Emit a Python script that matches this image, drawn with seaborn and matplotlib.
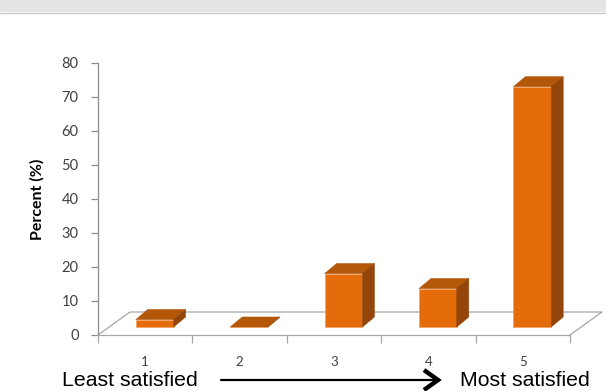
import matplotlib
matplotlib.use("Agg")
import matplotlib.pyplot as plt
import seaborn as sns
import pandas as pd
import numpy as np
from matplotlib.patches import Polygon, Rectangle
from matplotlib.lines import Line2D

# ---- data ----
ratings = ["1", "2", "3", "4", "5"]
percent = [2.2, 0.0, 15.7, 11.3, 70.6]
y_ticks = [0, 10, 20, 30, 40, 50, 60, 70, 80]
y_label = "Percent (%)"
low_label = "Least satisfied"
high_label = "Most satisfied"

# ---- style ----
FRONT = "#E46C0A"
TOP = "#B35709"
SIDE = "#94460A"
EDGE = "#F5A060"
AXIS_GRAY = "#8C8C8C"
TEXT_GRAY = "#404040"

W, H, DPI = 606, 391, 100
sns.set_theme(style="white")
plt.rcParams["font.family"] = ["Lato", "DejaVu Sans"]

fig = plt.figure(figsize=(W / DPI, H / DPI), dpi=DPI)
fig.patch.set_facecolor("white")

# axes box in pixels: x 98..570, value 0 at y=335, value 80 at y=62.7
ax_left, ax_right, ax_bottom, ax_top = 98, 570, 335, 62.7
ax = fig.add_axes([ax_left / W, (H - ax_bottom) / H,
                   (ax_right - ax_left) / W, (ax_bottom - ax_top) / H])
ax.set_facecolor("none")

df = pd.DataFrame({"rating": ratings, "percent": percent})
sns.barplot(data=df, x="rating", y="percent", color=FRONT, width=0.40,
            saturation=1, ax=ax, zorder=3)
ax.set_xlim(-0.5, len(ratings) - 0.5)
ax.set_ylim(0, y_ticks[-1])

# pixel -> data conversion factors
fig.canvas.draw()
px_per_x = ax.transData.transform((1, 0))[0] - ax.transData.transform((0, 0))[0]
px_per_y = ax.transData.transform((0, 1))[1] - ax.transData.transform((0, 0))[1]

# depth geometry (pixels)
floor_dx, floor_dy = 32, 23      # full depth of the floor
bar_dx, bar_dy = 9.5, 8          # bar front set back into the floor
side_dx, side_dy = 12, 10        # bar thickness in depth

fdx, fdy = floor_dx / px_per_x, floor_dy / px_per_y
bdx, bdy = bar_dx / px_per_x, bar_dy / px_per_y
sdx, sdy = side_dx / px_per_x, side_dy / px_per_y

# floor outline (behind bars)
x0, x1 = ax.get_xlim()
floor = [(x0, 0), (x0 + fdx, fdy), (x1 + fdx, fdy), (x1, 0)]
ax.add_line(Line2D([p[0] for p in floor], [p[1] for p in floor],
                   color="#A6A6A6", lw=0.9, clip_on=False, zorder=1))

# shift front faces back and add top / side faces
for patch in ax.patches:
    if not isinstance(patch, Rectangle):
        continue
    bx, by = patch.get_x() + bdx, bdy
    bw, bh = patch.get_width(), patch.get_height()
    patch.set_xy((bx, by))
    patch.set_edgecolor(EDGE)
    patch.set_linewidth(0.5)
    patch.set_clip_on(False)
    top = Polygon([(bx, by + bh), (bx + bw, by + bh),
                   (bx + bw + sdx, by + bh + sdy), (bx + sdx, by + bh + sdy)],
                  closed=True, facecolor=TOP, edgecolor=TOP, lw=0.4,
                  zorder=3, clip_on=False)
    side = Polygon([(bx + bw, by), (bx + bw + sdx, by + sdy),
                    (bx + bw + sdx, by + bh + sdy), (bx + bw, by + bh)],
                   closed=True, facecolor=SIDE, edgecolor=SIDE, lw=0.4,
                   zorder=3, clip_on=False)
    ax.add_patch(top)
    ax.add_patch(side)

# axes styling
for s in ["top", "right"]:
    ax.spines[s].set_visible(False)
ax.spines["left"].set_color(AXIS_GRAY)
ax.spines["bottom"].set_color("#A6A6A6")
ax.spines["left"].set_linewidth(0.9)
ax.spines["bottom"].set_linewidth(0.9)

ax.set_yticks(y_ticks)
ax.set_yticklabels([str(t) for t in y_ticks])
ax.tick_params(axis="y", which="major", length=5, width=0.9, color=AXIS_GRAY,
               labelsize=10.5, labelcolor=TEXT_GRAY, pad=9, left=True)

ax.set_xticks(range(len(ratings)))
ax.set_xticklabels(ratings)
ax.set_xticks(np.arange(-0.5, len(ratings)), minor=True)
ax.tick_params(axis="x", which="major", length=0, labelsize=9.5,
               labelcolor=TEXT_GRAY, pad=15)
ax.tick_params(axis="x", which="minor", length=6, width=0.9,
               color="#A6A6A6", bottom=True)
ax.set_xlabel("")
ax.set_ylabel(y_label, fontsize=11.5, fontweight="bold", color="black",
              labelpad=12)

# title band across the top
fig.patches.append(Rectangle((0, 1 - 12 / H), 1, 12 / H,
                             transform=fig.transFigure, facecolor="#E4E4E4",
                             edgecolor="none", zorder=0))
fig.lines.append(Line2D([0, 1], [1 - 12.5 / H] * 2, transform=fig.transFigure,
                        color="#C8C8C8", lw=1))

# satisfaction scale under the axis
ty = 1 - 381 / H
fig.text(62 / W, ty, low_label, fontsize=15.3, family="Liberation Sans",
         color="black", va="center", ha="left")
fig.text(590 / W, ty, high_label, fontsize=15.3, family="Liberation Sans",
         color="black", va="center", ha="right")
fig.lines.append(Line2D([221 / W, 436 / W], [1 - 380 / H] * 2,
                        transform=fig.transFigure, color="black", lw=1.6))
fig.lines.append(Line2D([424 / W, 438 / W, 424 / W],
                        [1 - 370 / H, 1 - 380 / H, 1 - 390 / H],
                        transform=fig.transFigure, color="black", lw=3.2,
                        solid_joinstyle="miter", solid_capstyle="butt"))

fig.savefig("out.png", dpi=DPI)
